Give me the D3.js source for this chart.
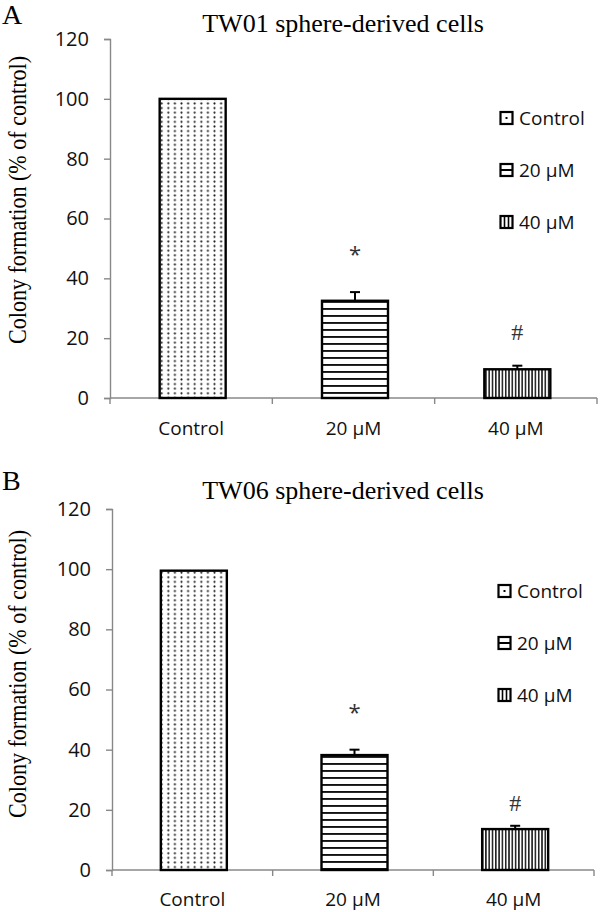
<!DOCTYPE html>
<html>
<head>
<meta charset="utf-8">
<script src="https://cdn.jsdelivr.net/npm/d3@7"></script>
<style>
  html, body { margin: 0; padding: 0; background: #fff; }
  svg { display: block; }
</style>
</head>
<body>
<div id="chart"></div>
<script>
// ---------- data ----------
const categories = ["Control", "20 µM", "40 µM"];
const yTicks = [0, 20, 40, 60, 80, 100, 120];
const tw01Values = [100, 32.5, 9.6];
const tw01Errors = [0, 2.9, 1.2];
const tw06Values = [99.5, 38.2, 13.6];
const tw06Errors = [0, 1.8, 1.1];
const signifMarks = ["", "*", "#"];
const tw01MarkPos = [null, 49.5, 22];
const tw06MarkPos = [null, 54, 22.3];
const panelLetters = ["A", "B"];
const panelTitles = ["TW01 sphere-derived cells", "TW06 sphere-derived cells"];
const yLabel = "Colony formation (% of control)";

// ---------- layout ----------
const layout = [
  { top: 39, bottom: 398, left: 110, right: 597, letterY: 24, titleY: 32, legendX: 500, legendY: 118, labelCY: 200 },
  { top: 509, bottom: 870, left: 112, right: 594, letterY: 490, titleY: 499, legendX: 498, legendY: 591, labelCY: 674 }
];
const panels = [
  { values: tw01Values, errors: tw01Errors, marks: tw01MarkPos },
  { values: tw06Values, errors: tw06Errors, marks: tw06MarkPos }
];

const W = 600, H = 912;
const svg = d3.select("#chart").append("svg").attr("width", W).attr("height", H);
const defs = svg.append("defs");

// patterns
const pDots = defs.append("pattern").attr("id", "pDots").attr("patternUnits", "userSpaceOnUse")
  .attr("width", 6.6).attr("height", 4.6);
pDots.append("rect").attr("width", 6.6).attr("height", 4.6).attr("fill", "#fff");
pDots.append("circle").attr("cx", 3.3).attr("cy", 2.3).attr("r", 1.05).attr("fill", "#222");

const pH = defs.append("pattern").attr("id", "pH").attr("patternUnits", "userSpaceOnUse")
  .attr("width", 8).attr("height", 7);
pH.append("rect").attr("width", 8).attr("height", 7).attr("fill", "#fff");
pH.append("rect").attr("y", 0).attr("width", 8).attr("height", 1.9).attr("fill", "#111");

const pV = defs.append("pattern").attr("id", "pV").attr("patternUnits", "userSpaceOnUse")
  .attr("width", 3.3).attr("height", 8);
pV.append("rect").attr("width", 3.3).attr("height", 8).attr("fill", "#fff");
pV.append("rect").attr("x", 0).attr("width", 1.6).attr("height", 8).attr("fill", "#222");

const fills = ["url(#pDots)", "url(#pH)", "url(#pV)"];

const serif = "'Liberation Serif', 'Times New Roman', serif";
const sans = "'Open Sans', 'DejaVu Sans', sans-serif";

panels.forEach((p, pi) => {
  const L = layout[pi];
  const g = svg.append("g");

  const x = d3.scaleBand().domain(categories).range([L.left, L.right]).paddingInner(0).paddingOuter(0);
  const y = d3.scaleLinear().domain([0, 120]).range([L.bottom, L.top]);
  const barW = 66;

  // letter & title
  g.append("text").attr("x", 2).attr("y", L.letterY).attr("font-family", serif)
    .attr("font-size", 28).attr("fill", "#000").text(panelLetters[pi]);
  g.append("text").attr("x", 343).attr("y", L.titleY).attr("text-anchor", "middle")
    .attr("font-family", serif).attr("font-size", 26).attr("fill", "#000").text(panelTitles[pi]);

  // y label
  g.append("text")
    .attr("transform", `translate(26,${L.labelCY}) rotate(-90)`)
    .attr("text-anchor", "middle").attr("font-family", serif).attr("font-size", 26)
    .attr("textLength", 288).attr("lengthAdjust", "spacingAndGlyphs")
    .attr("fill", "#000").text(yLabel);

  // y axis
  const yAxis = d3.axisLeft(y).tickValues(yTicks).tickSize(6).tickPadding(15);
  const ya = g.append("g").attr("transform", `translate(${L.left},0)`).call(yAxis);
  ya.select(".domain").attr("stroke", "#888").attr("stroke-width", 1.4);
  ya.selectAll(".tick line").attr("stroke", "#888").attr("stroke-width", 1.4);
  ya.selectAll(".tick text").attr("font-family", sans).attr("font-size", 20).attr("fill", "#111");

  // x axis
  const xa = g.append("g").attr("transform", `translate(0,${L.bottom})`);
  xa.append("line").attr("x1", L.left).attr("x2", L.right).attr("stroke", "#888").attr("stroke-width", 1.4);
  const bounds = [L.left].concat(categories.map(c => x(c) + x.bandwidth()));
  xa.selectAll("line.tk").data(bounds).enter().append("line").attr("class", "tk")
    .attr("x1", d => d).attr("x2", d => d).attr("y1", 0).attr("y2", 6)
    .attr("stroke", "#888").attr("stroke-width", 1.4);
  xa.selectAll("text").data(categories).enter().append("text")
    .attr("x", d => x(d) + x.bandwidth() / 2).attr("y", 37 - pi)
    .attr("text-anchor", "middle").attr("font-family", sans).attr("font-size", 19).attr("fill", "#111")
    .text(d => d);

  // bars
  const cx = c => x(c) + x.bandwidth() / 2 + 1.5;
  g.selectAll("rect.bar").data(categories).enter().append("rect").attr("class", "bar")
    .attr("x", c => cx(c) - barW / 2)
    .attr("y", (c, i) => y(p.values[i]))
    .attr("width", barW)
    .attr("height", (c, i) => y(0) - y(p.values[i]))
    .attr("fill", (c, i) => fills[i])
    .attr("stroke", "#000").attr("stroke-width", 2.4);

  // error bars
  categories.forEach((c, i) => {
    if (!p.errors[i]) return;
    const x0 = cx(c);
    const yt = y(p.values[i] + p.errors[i]);
    g.append("line").attr("x1", x0).attr("x2", x0).attr("y1", y(p.values[i])).attr("y2", yt)
      .attr("stroke", "#000").attr("stroke-width", 2);
    g.append("line").attr("x1", x0 - 5).attr("x2", x0 + 5).attr("y1", yt).attr("y2", yt)
      .attr("stroke", "#000").attr("stroke-width", 2);
  });

  // significance marks
  categories.forEach((c, i) => {
    if (!signifMarks[i]) return;
    const m = signifMarks[i];
    const isStar = m === "*";
    g.append("text").attr("x", cx(c))
      .attr("y", y(p.marks[i]) + (isStar ? 12 : 8))
      .attr("text-anchor", "middle")
      .attr("font-family", isStar ? sans : serif)
      .attr("font-size", isStar ? 22 : 24)
      .attr("fill", "#333").text(m);
  });

  // legend
  const lg = g.append("g").attr("transform", `translate(${L.legendX},${L.legendY})`);
  categories.forEach((c, i) => {
    const it = lg.append("g").attr("transform", `translate(0,${i * 52})`);
    it.append("rect").attr("x", 0.5).attr("y", -6).attr("width", 12).attr("height", 12)
      .attr("fill", "#fff").attr("stroke", "#000").attr("stroke-width", 2.2);
    if (i === 0) {
      it.append("rect").attr("x", 5.5).attr("y", -1).attr("width", 2).attr("height", 2).attr("fill", "#000");
    } else if (i === 1) {
      it.append("line").attr("x1", 0.5).attr("x2", 12.5).attr("y1", 0).attr("y2", 0)
        .attr("stroke", "#000").attr("stroke-width", 2);
    } else {
      [4.5, 8.5].forEach(v => it.append("line").attr("x1", v).attr("x2", v).attr("y1", -6).attr("y2", 6)
        .attr("stroke", "#000").attr("stroke-width", 1.6));
    }
    it.append("text").attr("x", 19).attr("y", 6.5).attr("font-family", sans).attr("font-size", 19)
      .attr("fill", "#111").text(c);
  });
});
</script>
</body>
</html>
